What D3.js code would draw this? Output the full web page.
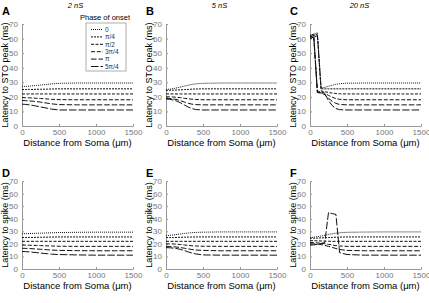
<!DOCTYPE html>
<html>
<head>
<meta charset="utf-8">
<script src="https://cdn.jsdelivr.net/npm/d3@7"></script>
<style>
  body { margin: 0; background: #fff; }
  svg { font-family: "Liberation Sans", Arial, sans-serif; }
</style>
</head>
<body>
<div class="chart"></div>
<script>
// distances along the dendrite (um)
let distances = [0, 50, 100, 150, 200, 250, 300, 350, 400, 500, 750, 1000, 1250, 1500]
let phases = ['0', 'π/4', 'π/2', '3π/4', 'π', '5π/4']
let conductances = ['2 nS', '5 nS', '20 nS']
let yTicks = [0, 10, 20, 30, 40, 50, 60, 70]
let xTicks = [0, 500, 1000, 1500]

// latency to STO peak (ms), one row per phase
let stoA = [
    [27, 27.2, 27.4, 27.6, 27.9, 28.1, 28.4, 28.6, 28.9, 29.3, 29.5, 29.5, 29.5, 29.5],
    [25, 25, 25.1, 25.1, 25.2, 25.2, 25.3, 25.3, 25.4, 25.5, 25.5, 25.5, 25.5, 25.5],
    [22, 22, 22, 22, 22, 22, 22, 22, 22, 22, 22, 22, 22, 22],
    [19.5, 19.4, 19.3, 19.2, 19, 18.9, 18.7, 18.5, 18.3, 18.1, 18, 18, 18, 18],
    [17.5, 17.4, 17.2, 17, 16.7, 16.4, 16, 15.6, 15.2, 14.7, 14.5, 14.5, 14.5, 14.5],
    [15, 14.8, 14.5, 14.1, 13.6, 13.1, 12.6, 12.1, 11.6, 11, 11, 11, 11, 11]
]
let stoB = [
    [25, 25.3, 25.7, 26.2, 26.8, 27.4, 28, 28.5, 28.9, 29.3, 29.5, 29.5, 29.5, 29.5],
    [24.5, 24.5, 24.6, 24.7, 24.8, 25, 25.1, 25.3, 25.4, 25.5, 25.5, 25.5, 25.5, 25.5],
    [22, 22, 22, 22, 22, 22, 22, 22, 22, 22, 22, 22, 22, 22],
    [20, 20, 19.9, 19.7, 19.4, 19, 18.7, 18.4, 18.2, 18, 18, 18, 18, 18],
    [19, 18.9, 18.6, 18.1, 17.3, 16.4, 15.6, 15, 14.7, 14.5, 14.5, 14.5, 14.5, 14.5],
    [18.5, 18.3, 17.8, 17, 15.8, 14.4, 13, 12, 11.3, 11, 11, 11, 11, 11]
]
let stoC = [
    [62, 63, 64, 26, 26.5, 27.3, 28, 28.6, 29, 29.4, 29.5, 29.5, 29.5, 29.5],
    [61, 62, 63, 25.5, 25.5, 25.5, 25.5, 25.5, 25.5, 25.5, 25.5, 25.5, 25.5, 25.5],
    [60, 61, 62, 24, 23.6, 23, 22.6, 22.3, 22.1, 22, 22, 22, 22, 22],
    [61, 62, 24, 23.5, 22.5, 21, 19.8, 18.8, 18.3, 18, 18, 18, 18, 18],
    [62, 63, 23, 22.7, 21.5, 19, 17, 15.5, 14.8, 14.5, 14.5, 14.5, 14.5, 14.5],
    [60, 61, 23, 22.7, 22, 17.5, 14, 12, 11.2, 11, 11, 11, 11, 11]
]

// latency to spike (ms)
let spikeD = [
    [28, 28.1, 28.2, 28.3, 28.4, 28.5, 28.6, 28.7, 28.8, 29, 29.2, 29.3, 29.3, 29.3],
    [25, 25, 25.1, 25.1, 25.2, 25.2, 25.3, 25.3, 25.4, 25.5, 25.5, 25.5, 25.5, 25.5],
    [22, 22, 22, 22, 22, 22, 22, 22, 22, 22, 22, 22, 22, 22],
    [19, 19, 18.9, 18.8, 18.7, 18.6, 18.5, 18.4, 18.3, 18.1, 18, 18, 18, 18],
    [16.5, 16.4, 16.3, 16.1, 15.9, 15.7, 15.5, 15.3, 15.1, 14.8, 14.6, 14.5, 14.5, 14.5],
    [14, 13.8, 13.6, 13.3, 13, 12.7, 12.4, 12.1, 11.8, 11.5, 11.2, 11, 11, 11]
]
let spikeE = [
    [26.5, 26.8, 27.1, 27.5, 27.9, 28.3, 28.6, 28.9, 29.1, 29.3, 29.5, 29.5, 29.5, 29.5],
    [25, 25, 25, 25.1, 25.2, 25.3, 25.4, 25.4, 25.5, 25.5, 25.5, 25.5, 25.5, 25.5],
    [22, 22, 22, 22, 22, 22, 22, 22, 22, 22, 22, 22, 22, 22],
    [20, 20, 19.9, 19.7, 19.4, 19.1, 18.8, 18.5, 18.3, 18.1, 18, 18, 18, 18],
    [18, 17.9, 17.7, 17.4, 17, 16.5, 16, 15.5, 15.1, 14.8, 14.5, 14.5, 14.5, 14.5],
    [17, 16.9, 16.6, 16.2, 15.5, 14.6, 13.6, 12.7, 12, 11.2, 11, 11, 11, 11]
]
let spikeF = [
    [25, 25.3, 25.7, 26.2, 26.8, 27.5, 28, 28.5, 28.8, 29.2, 29.4, 29.5, 29.5, 29.5],
    [24.5, 24.5, 24.6, 24.7, 24.9, 25, 25.1, 25.3, 25.4, 25.5, 25.5, 25.5, 25.5, 25.5],
    [22.5, 22.5, 22.4, 22.3, 22.2, 22.1, 22, 22, 22, 22, 22, 22, 22, 22],
    [21, 21, 20.8, 20.5, 20.1, 19.6, 19.1, 18.6, 18.3, 18, 18, 18, 18, 18],
    [20, 20, 19.8, 19.4, 18.8, 18, 17.2, 16.3, 15.5, 14.8, 14.5, 14.5, 14.5, 14.5],
    [19, 19.2, 19.6, 20.3, 21, 45, 44, 43.5, 13, 11.5, 11, 11, 11, 11]
]

let dashes = ['1,1', '2,1', '3,1.5', '4,1.8', '5.5,2', '7.5,2']

let svg = d3.select('.chart')
    .append('svg')
    .attr('width', 429)
    .attr('height', 303)

let cols = [[22, 133], [166, 277], [310, 421]]
let rows = [
    { y0: 126, y70: 24, label: 'Latency to STO peak (ms)', data: [stoA, stoB, stoC], letters: ['A', 'B', 'C'], letterY: 15 },
    { y0: 269, y70: 181, label: 'Latency to spike (ms)', data: [spikeD, spikeE, spikeF], letters: ['D', 'E', 'F'], letterY: 177 }
]

rows.forEach((row, r) => {
    cols.forEach((c, i) => {
        let xScale = d3.scaleLinear().domain([0, 1500]).range(c)
        let yScale = d3.scaleLinear().domain([0, 70]).range([row.y0, row.y70])
        let g = svg.append('g')

        let yAxis = d3.axisLeft(yScale).tickValues(yTicks).tickSizeInner(-2).tickSizeOuter(0).tickPadding(4)
        let xAxis = d3.axisBottom(xScale).tickValues(xTicks).tickFormat(d3.format('d'))
            .tickSizeInner(-2).tickSizeOuter(0).tickPadding(3)

        g.append('g')
            .attr('transform', `translate(${c[0]},0)`)
            .call(yAxis)
        g.append('g')
            .attr('transform', `translate(0,${row.y0})`)
            .call(xAxis)
        g.selectAll('.domain, .tick line').attr('stroke', '#999')
        g.selectAll('.tick text').attr('fill', '#777').style('font-size', '8px')

        g.append('text')
            .attr('transform', `translate(${c[0] - 14},${(row.y0 + row.y70) / 2}) rotate(-90)`)
            .attr('text-anchor', 'middle')
            .style('font-size', '9px')
            .text(row.label)
        g.append('text')
            .attr('x', (c[0] + c[1]) / 2)
            .attr('y', row.y0 + 20)
            .attr('text-anchor', 'middle')
            .style('font-size', '9.5px')
            .text('Distance from Soma (μm)')
        g.append('text')
            .attr('x', c[0] - 20)
            .attr('y', row.letterY)
            .style('font-size', '11px')
            .style('font-weight', 'bold')
            .text(row.letters[i])

        if (r == 0) {
            g.append('text')
                .attr('x', (c[0] + c[1]) / 2 - (i == 2 ? 6 : 2))
                .attr('y', 8)
                .attr('text-anchor', 'middle')
                .style('font-size', '7.5px')
                .style('font-style', 'italic')
                .text(conductances[i])
        }

        let line = d3.line()
            .x((d, k) => xScale(distances[k]))
            .y(d => yScale(d))

        g.selectAll('path.series')
            .data(row.data[i])
            .enter()
            .append('path')
            .attr('class', 'series')
            .attr('d', line)
            .attr('fill', 'none')
            .attr('stroke', '#111')
            .attr('stroke-width', 1)
            .attr('stroke-dasharray', (d, k) => dashes[k])
    })
})

// legend in panel A
let legend = svg.append('g')
legend.append('text')
    .attr('x', 105)
    .attr('y', 20)
    .attr('text-anchor', 'middle')
    .style('font-size', '7.5px')
    .text('Phase of onset')
legend.append('rect')
    .attr('x', 86)
    .attr('y', 23)
    .attr('width', 40)
    .attr('height', 48)
    .attr('fill', '#fff')
    .attr('stroke', '#999')
    .attr('stroke-width', 0.8)
let legendY = d3.scalePoint().domain(phases).range([29.5, 66.5])
phases.forEach((p, k) => {
    legend.append('line')
        .attr('x1', 91)
        .attr('x2', 103)
        .attr('y1', legendY(p))
        .attr('y2', legendY(p))
        .attr('stroke', '#111')
        .attr('stroke-dasharray', dashes[k])
    legend.append('text')
        .attr('x', 105)
        .attr('y', legendY(p) + 2.3)
        .style('font-size', '6.5px')
        .attr('fill', '#333')
        .text(p)
})
</script>
</body>
</html>
